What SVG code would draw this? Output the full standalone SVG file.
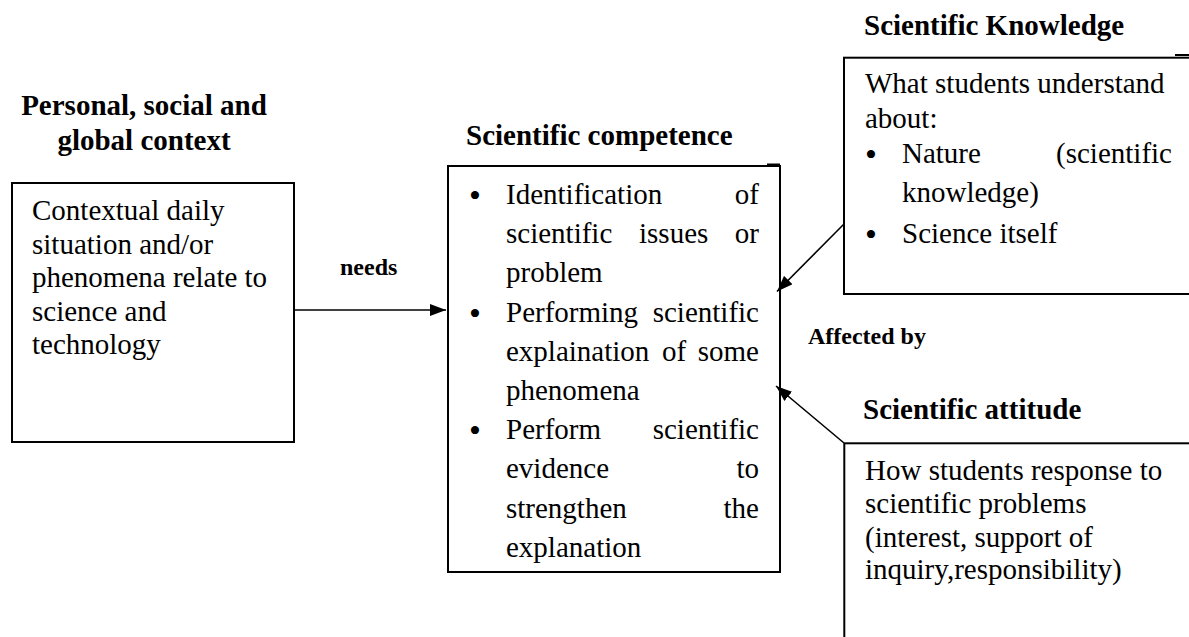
<svg xmlns="http://www.w3.org/2000/svg" width="1189" height="637" viewBox="0 0 1189 637" font-family="Liberation Serif, serif">
<style>
.t{font-size:29px;font-family:"Liberation Serif","Times New Roman",serif}
.h{font-size:29px;font-weight:bold;font-family:"Liberation Serif","Times New Roman",serif}
.lab{font-size:24px;font-weight:bold;font-family:"Liberation Serif","Times New Roman",serif}
.e{text-anchor:end}
.m{text-anchor:middle}
.b{font-size:34px;text-anchor:middle;font-family:"Liberation Serif","Times New Roman",serif}
.box{fill:#fff;stroke:#000;stroke-width:2}
.conn{stroke:#000;stroke-width:1.6;fill:none}
</style>
<defs>
<marker id="arr" markerUnits="userSpaceOnUse" viewBox="0 0 16 12" refX="16" refY="6" markerWidth="16" markerHeight="12" orient="auto">
<path d="M0,0 L16,6 L0,12 Z" fill="#000"/>
</marker>
</defs>
<rect width="1189" height="637" fill="#fff"/>

<g id="context" font-family="Liberation Serif">
<text class="h m" x="144" y="115">Personal, social and</text>
<text class="h m" x="144" y="150">global context</text>
<rect class="box" x="12" y="183" width="282" height="259"/>
<text class="t" x="32" y="220">Contextual daily</text>
<text class="t" x="32" y="253.5">situation and/or</text>
<text class="t" x="32" y="287">phenomena relate to</text>
<text class="t" x="32" y="320.5">science and</text>
<text class="t" x="32" y="354">technology</text>
</g>

<g id="competence" font-family="Liberation Serif">
<text class="h" x="466" y="145">Scientific competence</text>
<rect class="box" x="448" y="166" width="332" height="406"/>
<path d="M767,164.5 H780" stroke="#000" stroke-width="2"/>
<text class="b" x="475" y="207">•</text>
<text class="t" x="506" y="204">Identification</text><text class="t e" x="759" y="204">of</text>
<text class="t" x="506" y="243.2">scientific</text><text class="t" x="639" y="243.2">issues</text><text class="t e" x="759" y="243.2">or</text>
<text class="t" x="506" y="282.4">problem</text>
<text class="b" x="475" y="324.6">•</text>
<text class="t" x="506" y="321.6">Performing</text><text class="t e" x="759" y="321.6">scientific</text>
<text class="t" x="506" y="360.8">explaination</text><text class="t" x="662" y="360.8">of</text><text class="t e" x="759" y="360.8">some</text>
<text class="t" x="506" y="400">phenomena</text>
<text class="b" x="475" y="442.2">•</text>
<text class="t" x="506" y="439.2">Perform</text><text class="t e" x="759" y="439.2">scientific</text>
<text class="t" x="506" y="478.4">evidence</text><text class="t e" x="759" y="478.4">to</text>
<text class="t" x="506" y="517.6">strengthen</text><text class="t e" x="759" y="517.6">the</text>
<text class="t" x="506" y="556.8">explanation</text>
</g>

<g id="knowledge" font-family="Liberation Serif">
<text class="h" x="864" y="35">Scientific Knowledge</text>
<rect class="box" x="844" y="57.7" width="360" height="236.3"/>
<path d="M1175,55 H1189" stroke="#000" stroke-width="2"/>
<text class="t" x="865" y="92.7">What students understand</text>
<text class="t" x="865" y="127.7">about:</text>
<text class="b" x="871" y="166">•</text>
<text class="t" x="902" y="163">Nature</text><text class="t e" x="1172" y="163">(scientific</text>
<text class="t" x="902" y="201.7">knowledge)</text>
<text class="b" x="871" y="246">•</text>
<text class="t" x="902" y="243">Science itself</text>
</g>

<g id="attitude" font-family="Liberation Serif">
<text class="h" x="863" y="419">Scientific attitude</text>
<rect class="box" x="844.3" y="443.3" width="360" height="220"/>
<text class="t" x="865" y="480">How students response to</text>
<text class="t" x="865" y="513">scientific problems</text>
<text class="t" x="865" y="547">(interest, support of</text>
<text class="t" x="865" y="579">inquiry,responsibility)</text>
</g>

<g id="connectors" font-family="Liberation Serif">
<line class="conn" x1="295" y1="310" x2="446" y2="310" marker-end="url(#arr)"/>
<text class="lab" x="340" y="275">needs</text>
<line class="conn" x1="844" y1="224" x2="777" y2="291.5" marker-end="url(#arr)"/>
<line class="conn" x1="844" y1="443" x2="776" y2="386" marker-end="url(#arr)"/>
<text class="lab" x="808" y="344">Affected by</text>
</g>
</svg>
